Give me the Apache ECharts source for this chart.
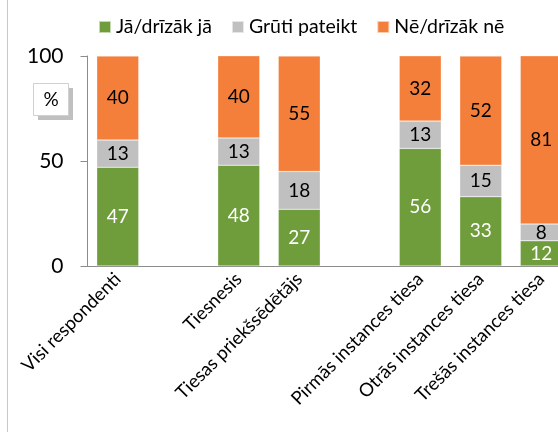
<!DOCTYPE html>
<html><head><meta charset="utf-8">
<script src="https://cdn.jsdelivr.net/npm/echarts@6/dist/echarts.min.js"></script>
<style>html,body{margin:0;padding:0;background:#fff}#c{width:558px;height:432px}</style>
</head><body><div id="c"></div>
<script>
const categories = ['Visi respondenti', '', 'Tiesnesis', 'Tiesas priekšsēdētājs', '', 'Pirmās instances tiesa', 'Otrās instances tiesa', 'Trešās instances tiesa'];
const seriesNames = ['Jā/drīzāk jā', 'Grūti pateikt', 'Nē/drīzāk nē'];
const yes = [47, null, 48, 27, null, 56, 33, 12];
const hard = [13, null, 13, 18, null, 13, 15, 8];
const no = [40, null, 40, 55, null, 32, 52, 81];
const yTicks = [0, 50, 100];

const FONT = 'Lato';
const colors = ['#6F9D3C', '#C0C0C0', '#F47F3B'];
const labelColors = ['#ffffff', '#000000', '#000000'];
const chart = echarts.init(document.getElementById('c'), null, {renderer: 'canvas'});
const data = [yes, hard, no];
chart.setOption({
  animation: false,
  textStyle: {fontFamily: FONT},
  legend: {
    top: 12, left: 93,
    itemWidth: 12, itemHeight: 12, itemGap: 19,
    icon: 'rect',
    textStyle: {fontFamily: FONT, fontSize: 19.5, color: '#000'},
    data: seriesNames
  },
  grid: {left: 87.5, top: 56, width: 484, height: 210, containLabel: false, outerBoundsMode: 'none'},
  xAxis: {
    type: 'category', data: categories,
    axisLine: {lineStyle: {color: '#8c8c8c', width: 1}},
    axisTick: {show: false},
    axisLabel: {rotate: 45, interval: 0, fontFamily: FONT, fontSize: 18.5, color: '#000', margin: 10}
  },
  yAxis: {
    type: 'value', min: yTicks[0], max: yTicks[yTicks.length - 1], interval: 50,
    axisLine: {show: true, lineStyle: {color: '#8c8c8c'}},
    axisTick: {show: true, length: 7, lineStyle: {color: '#8c8c8c'}},
    splitLine: {show: false},
    axisLabel: {fontFamily: FONT, fontSize: 21, color: '#000', margin: 24}
  },
  series: seriesNames.map((n, i) => ({
    name: n, type: 'bar', stack: 'a', barWidth: 42,
    data: data[i],
    itemStyle: {color: colors[i], borderColor: 'rgba(255,255,255,0.6)', borderWidth: 0.5},
    label: {show: true, position: 'inside', fontFamily: FONT, fontSize: 19, color: labelColors[i]}
  })),
  graphic: [
    {type: 'line', shape: {x1: 7.5, y1: 0, x2: 7.5, y2: 432}, style: {stroke: '#c8c8c8', lineWidth: 1}},
    {type: 'rect', shape: {x: 38, y: 88, width: 35, height: 32}, style: {fill: '#c0c0c0'}},
    {type: 'rect', shape: {x: 33.5, y: 83.5, width: 35, height: 32}, style: {fill: '#fff', stroke: '#d0d0d0', lineWidth: 1}},
    {type: 'text', x: 51, y: 100, style: {text: '%', font: '19px Lato', fill: '#000', align: 'center', verticalAlign: 'middle'}}
  ]
});
</script></body></html>
